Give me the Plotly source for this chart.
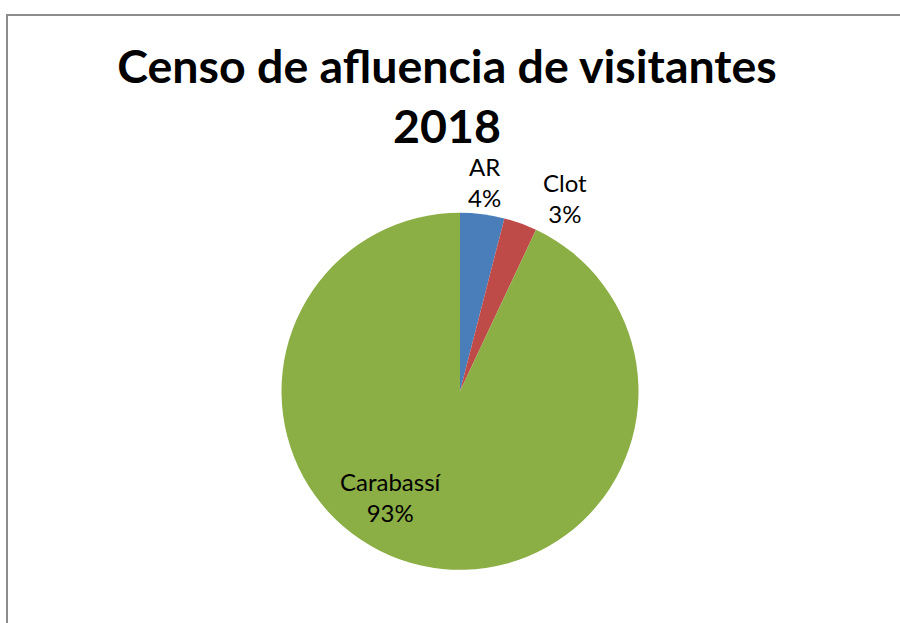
import plotly.graph_objects as go

# Visitor census 2018, share by site
sites = ["AR", "Clot", "Carabassí"]
visitors_pct = [4, 3, 93]
slice_colors = ["#4A7EBB", "#BE4B48", "#8BAE45"]

title_text = "Censo de afluencia de visitantes<br>2018"

W, H = 900, 623

# label anchor points in pixels from top-left (one per site)
label_px = [(484, 182), (565, 198), (391, 497)]

fig = go.Figure()

fig.add_trace(go.Pie(
    labels=sites,
    values=visitors_pct,
    sort=False,
    direction="clockwise",
    rotation=0,
    marker=dict(colors=slice_colors, line=dict(width=0)),
    textinfo="none",
    domain=dict(x=[(460 - 178.5) / W, (460 + 178.5) / W],
                y=[(H - 570) / H, (H - 212.6) / H]),
    showlegend=False,
    hoverinfo="label+percent",
))

total = sum(visitors_pct)
for site, val, (px, py) in zip(sites, visitors_pct, label_px):
    fig.add_annotation(
        x=px / W, y=1 - py / H, xref="paper", yref="paper",
        xanchor="center", yanchor="middle", showarrow=False,
        text=f"{site}<br>{round(100 * val / total)}%",
        font=dict(family="Lato", size=24, color="#000000"),
    )

# chart area frame (runs off the right and bottom edges)
fig.add_shape(type="rect", xref="paper", yref="paper",
              x0=7 / W, x1=1.05, y0=-0.05, y1=1 - 15 / H,
              line=dict(color="#8C8C8C", width=2), fillcolor="rgba(0,0,0,0)",
              layer="above")

fig.update_layout(
    width=W, height=H,
    margin=dict(l=0, r=0, t=0, b=0),
    paper_bgcolor="#FFFFFF",
    plot_bgcolor="#FFFFFF",
    title=dict(text=title_text, x=447 / W, xanchor="center",
               y=1 - 83 / H, yanchor="middle",
               font=dict(family="Lato", size=46.5, color="#000000", weight="bold")),
)

fig.write_html("out.html")
